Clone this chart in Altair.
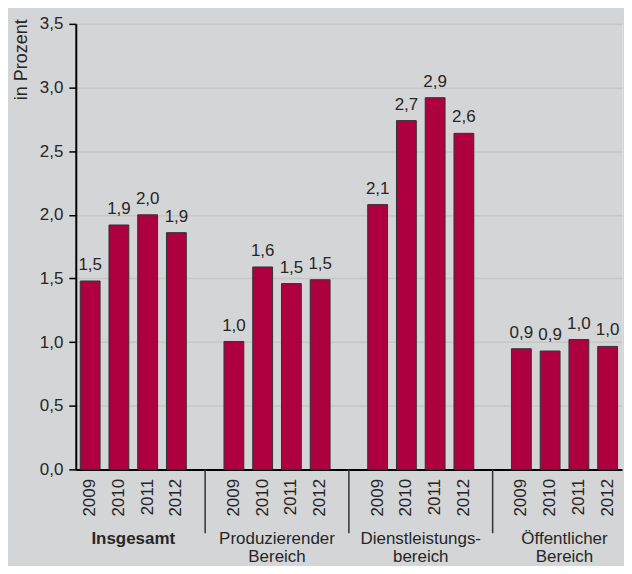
import altair as alt
import pandas as pd

groups = ["Insgesamt", "Produzierender\nBereich", "Dienstleistungs-\nbereich", "Öffentlicher\nBereich"]
years = ["2009", "2010", "2011", "2012"]
insgesamt = [1.48, 1.92, 2.00, 1.86]
produzierend = [1.005, 1.59, 1.46, 1.49]
dienstleistung = [2.08, 2.74, 2.92, 2.64]
oeffentlich = [0.948, 0.93, 1.02, 0.966]
series = [insgesamt, produzierend, dienstleistung, oeffentlich]
y_ticks = [0, 0.5, 1.0, 1.5, 2.0, 2.5, 3.0, 3.5]

W, H = 548, 447
BAR = "#ae0041"
FONT = "Liberation Sans"
TXT = "#262626"
FS = 17

domain = []
rows = []
for gi, vals in enumerate(series):
    for yr, v in zip(years, vals):
        k = f"{gi}|{yr}"
        domain.append(k)
        rows.append({"key": k, "value": v, "group": groups[gi]})
    if gi < len(series) - 1:
        domain.append(f"g{gi}")
bars_df = pd.DataFrame(rows)
glabels_df = pd.DataFrame({
    "key": [f"{gi}|2011" for gi in range(len(groups))],
    "text": groups,
    "bold": [gi == 0 for gi in range(len(groups))],
})
seps_df = pd.DataFrame({"key": [f"g{gi}" for gi in range(len(groups) - 1)]})

xscale = alt.Scale(domain=domain, paddingInner=0, paddingOuter=0)
xaxis = alt.Axis(
    title=None,
    labelExpr="indexof(datum.value, '|') > 0 ? split(datum.value, '|')[1] : ''",
    labelAngle=270, labelAlign="right", labelBaseline="middle",
    labelPadding=9, ticks=False, domainColor="black", domainWidth=2,
    labelFontSize=FS, labelColor=TXT, grid=False, labelOverlap=False,
)


def xenc(**kw):
    return alt.X("key:N", scale=xscale, axis=xaxis, title=None, **kw)


yenc = alt.Y(
    "value:Q",
    scale=alt.Scale(domain=[0, 3.5], nice=False),
    axis=alt.Axis(
        values=y_ticks,
        labelExpr="replace(format(datum.value, '.1f'), '.', ',')",
        title="in Prozent", titleAngle=270, titleAlign="right", titleBaseline="middle",
        titleX=-54, titleY=-5, titleFontWeight="normal", titleFontSize=18, titleColor=TXT,
        tickSize=7, tickColor="black", tickWidth=1.5,
        domainColor="black", domainWidth=2,
        gridColor="#c6c6c6", gridWidth=1.5,
        labelFontSize=FS, labelPadding=6, labelColor=TXT,
    ),
)

bars = alt.Chart(bars_df).mark_bar(
    width={"band": 0.69}, color=BAR, stroke="#333", strokeWidth=1
).encode(x=xenc(), y=yenc)

vlabels = alt.Chart(bars_df).transform_calculate(
    label="replace(format(datum.value, '.1f'), '.', ',')"
).mark_text(baseline="alphabetic", dy=-11, fontSize=FS, color=TXT).encode(
    x=xenc(), y=yenc, text="label:N"
)

seps = alt.Chart(seps_df).mark_rule(color="#333", strokeWidth=1.5).encode(
    x=xenc(bandPosition=0.5), y=alt.value(H), y2=alt.value(H + 64)
)

gl_bold = alt.Chart(glabels_df).transform_filter("datum.bold").mark_text(
    baseline="top", lineBreak="\n", fontSize=FS, fontWeight="bold", color=TXT, lineHeight=18
).encode(x=xenc(bandPosition=0), y=alt.value(H + 62), text="text:N")

gl_norm = alt.Chart(glabels_df).transform_filter("!datum.bold").mark_text(
    baseline="top", lineBreak="\n", fontSize=FS, color=TXT, lineHeight=18
).encode(x=xenc(bandPosition=0), y=alt.value(H + 62), text="text:N")

chart = alt.layer(bars, vlabels, seps, gl_bold, gl_norm).properties(
    width=W, height=H,
    padding={"left": 5, "top": 6, "right": 2, "bottom": 0},
    background="#d4d5d7",
).configure_view(
    fill="white", stroke="#222", strokeWidth=1.5
).configure(font=FONT)

chart.save("out.html", embed_options={"renderer": "svg", "actions": False})
